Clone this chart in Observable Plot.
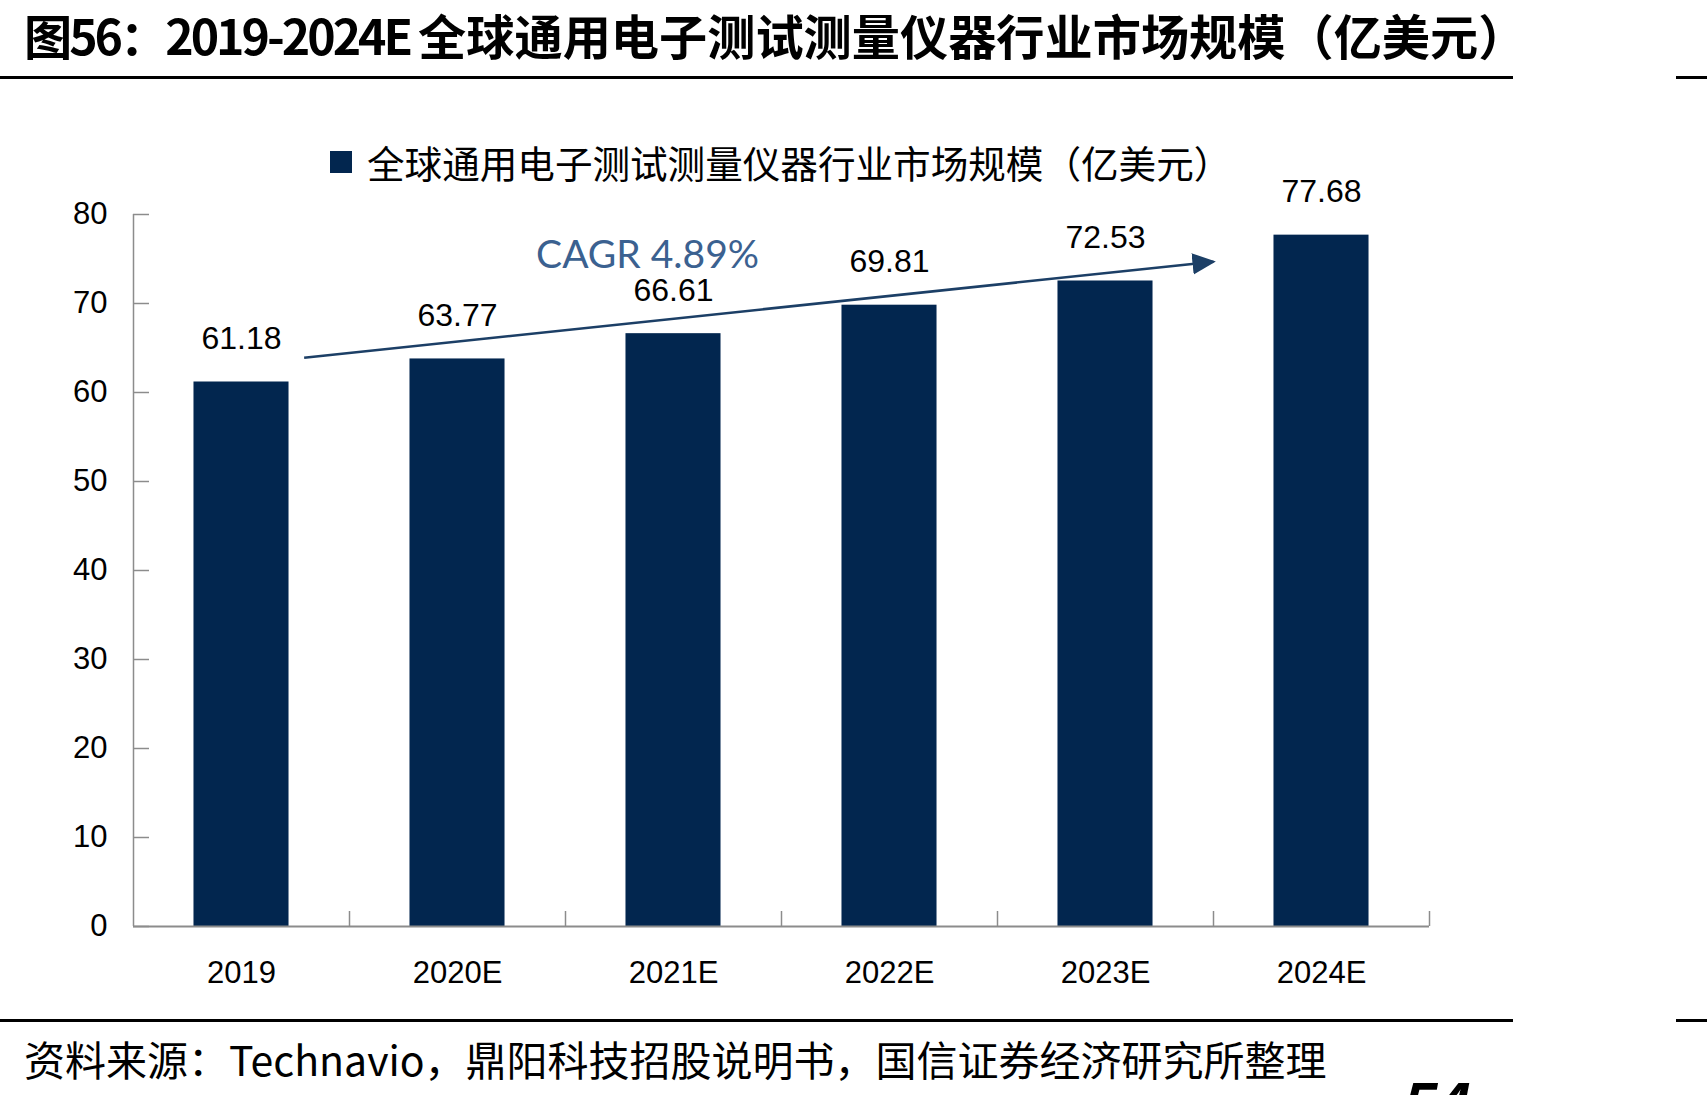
<!DOCTYPE html>
<html>
<head>
<meta charset="utf-8">
<script src="https://cdn.jsdelivr.net/npm/d3@7"></script>
<script src="https://cdn.jsdelivr.net/npm/@observablehq/plot@0.6"></script>
<style>
  html, body { margin: 0; padding: 0; background: #fff; }
  body { width: 1707px; height: 1095px; overflow: hidden; position: relative; font-family: "Noto Sans CJK SC", sans-serif; }
  .abs { position: absolute; white-space: nowrap; line-height: 1; }
  #title { left: 24px; top: 10px; font-size: 48.2px; font-weight: 700; color: #000; }
  #title .pre { letter-spacing: -3px; }
  .rule { position: absolute; height: 3px; background: #000; }
  #legend { left: 330px; top: 143px; font-size: 37.6px; color: #000; display: flex; align-items: center; }
  #legend .sw { width: 22px; height: 22px; margin-right: 15px; display: inline-block; }
  #caption { left: 24px; top: 1038px; font-size: 41px; color: #000; }
  #page { left: 1404px; top: 1074px; font-size: 60px; font-weight: 700; font-style: italic; font-family: "Liberation Sans", Arial, sans-serif; }
  #chart { position: absolute; left: 0; top: 80px; }
</style>
</head>
<body>
<div id="title" class="abs"><span class="pre">图56：2019-2024E </span>全球通用电子测试测量仪器行业市场规模（亿美元）</div>
<div class="rule" style="left:0;top:76px;width:1513px;"></div>
<div class="rule" style="left:1676px;top:76px;width:31px;"></div>
<div id="chart"></div>
<div id="legend" class="abs"><span class="sw"></span><span id="legendText"></span></div>
<div class="rule" style="left:0;top:1019px;width:1513px;"></div>
<div class="rule" style="left:1676px;top:1019px;width:31px;"></div>
<div id="caption" class="abs">资料来源：Technavio，鼎阳科技招股说明书，国信证券经济研究所整理</div>
<div id="page" class="abs">54</div>
<script>
// ---- data ----
const categories = ["2019", "2020E", "2021E", "2022E", "2023E", "2024E"];
const values = [61.18, 63.77, 66.61, 69.81, 72.53, 77.68];
const yTicks = [0, 10, 20, 30, 40, 50, 60, 70, 80];
const seriesName = "全球通用电子测试测量仪器行业市场规模（亿美元）";
const cagrLabel = "CAGR 4.89%";
// annotation anchors in data units: [category index position, value]
const arrowStart = [0.79, 63.9];
const arrowEnd = [5.0, 74.7];
const cagrAnchor = [2.38, 75.35];

const barColor = "#02264f";
const axisColor = "#8c8c8c";
const numFont = "'Liberation Sans', Arial, sans-serif";

const bars = categories.map((c, i) => ({cat: c, idx: i, value: values[i]}));

document.getElementById("legendText").textContent = seriesName;
document.querySelector("#legend .sw").style.background = barColor;

function triangleMarker(color, context) {
  const m = d3.create("svg:marker")
    .attr("viewBox", "-5 -5 10 10")
    .attr("markerWidth", 9)
    .attr("markerHeight", 9)
    .attr("refX", 4)
    .attr("orient", "auto")
    .attr("markerUnits", "strokeWidth");
  m.append("path").attr("d", "M-5,-4.6L5,0L-5,4.6Z").attr("fill", color).attr("stroke", "none");
  return m.node();
}

const chart = Plot.plot({
  width: 1707,
  height: 930,
  marginLeft: 133,
  marginRight: 278,
  marginTop: 134,
  marginBottom: 84,
  style: {background: "transparent", overflow: "visible", fontFamily: numFont},
  x: {type: "linear", domain: [0, categories.length], axis: null},
  y: {domain: [0, 80], axis: null},
  marks: [
    Plot.rectY(bars, {x1: d => d.idx + 0.28, x2: d => d.idx + 0.72, y1: 0, y2: "value", fill: barColor}),
    // y axis line
    Plot.ruleX([0], {y1: 0, y2: 80, stroke: axisColor, strokeWidth: 1.5}),
    // y ticks (pointing inward)
    Plot.axisY({ticks: yTicks, tickSize: -16, text: null, stroke: axisColor, strokeWidth: 1.5, anchor: "left"}),
    // y labels
    Plot.text(yTicks, {x: 0, y: d => d, dx: -26, textAnchor: "end", lineAnchor: "middle", fontSize: 31, fill: "#000", text: d => String(d)}),
    // x axis baseline
    Plot.ruleY([0], {x1: 0, x2: categories.length, stroke: axisColor, strokeWidth: 2}),
    // x boundary ticks pointing up
    Plot.axisX({ticks: d3.range(1, categories.length + 1), tickSize: -15, text: null, stroke: axisColor, strokeWidth: 1.5, anchor: "bottom"}),
    // x labels
    Plot.text(bars, {x: d => d.idx + 0.5, y: 0, dy: 47, text: "cat", lineAnchor: "middle", fontSize: 31, fill: "#000"}),
    // value labels
    Plot.text(bars, {x: d => d.idx + 0.5, y: "value", dy: -43, text: d => d3.format(".2f")(d.value), lineAnchor: "middle", fontSize: 32, letterSpacing: 1, fill: "#000"}),
    // CAGR arrow
    Plot.link([{x1: arrowStart[0], y1: arrowStart[1], x2: arrowEnd[0], y2: arrowEnd[1]}], {
      x1: "x1", y1: "y1", x2: "x2", y2: "y2", stroke: "#1c3f66", strokeWidth: 2.6, markerEnd: triangleMarker
    }),
    Plot.text([cagrLabel], {x: cagrAnchor[0], y: cagrAnchor[1], text: d => d, fontSize: 39, fontFamily: "Lato, 'Open Sans', sans-serif", fill: "#3b6190", lineAnchor: "middle"})
  ]
});
document.getElementById("chart").appendChild(chart);
</script>
</body>
</html>
